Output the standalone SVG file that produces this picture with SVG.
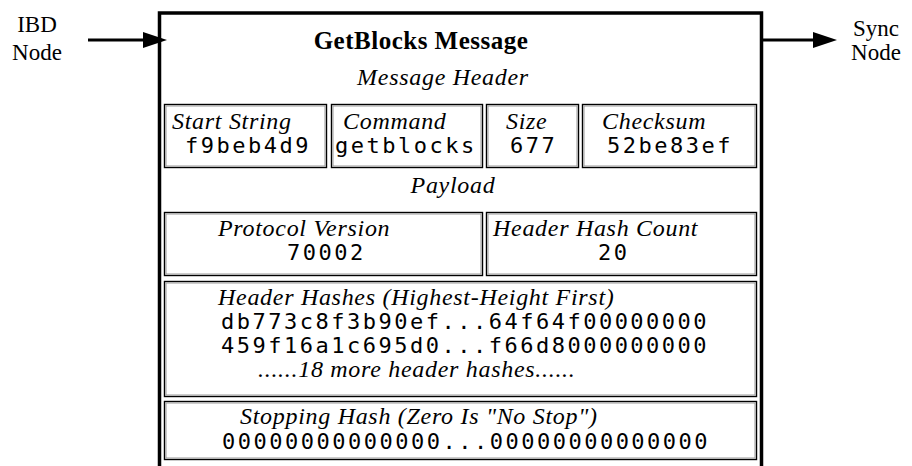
<svg xmlns="http://www.w3.org/2000/svg" width="912" height="466" viewBox="0 0 912 466">
<style>
.lbl{font-family:"Liberation Serif","Times New Roman",serif;font-style:italic;font-size:24px;letter-spacing:0.7px;fill:#000}
.reg{font-family:"Liberation Serif","Times New Roman",serif;font-size:23px;fill:#000}
.ttl{font-family:"Liberation Serif","Times New Roman",serif;font-weight:bold;font-size:25px;letter-spacing:0.5px;fill:#000}
.mono{font-family:"DejaVu Sans Mono","Liberation Mono",monospace;font-size:22px;letter-spacing:2.5px;fill:#000}
.cell{fill:none;stroke:#000;stroke-width:1.4}
.cin{fill:none;stroke:#999;stroke-width:1}
.frame{fill:none;stroke:#000;stroke-width:3.5}
.conn{stroke:#000;stroke-width:3;fill:none}
.head{fill:#000}
</style>
<rect width="912" height="466" fill="#fff"/>
<g id="ibd-node">
<text class="reg" x="37" y="32" text-anchor="middle">IBD</text>
<text class="reg" x="37" y="60" text-anchor="middle">Node</text>
</g>
<g id="sync-node">
<text class="reg" x="876" y="36" text-anchor="middle">Sync</text>
<text class="reg" x="876" y="60" text-anchor="middle">Node</text>
</g>
<g id="getblocks-message">
<path class="frame" d="M159.5,470 V13 H761.5 V470"/>
<text class="ttl" x="421" y="49" text-anchor="middle">GetBlocks Message</text>
<text class="lbl" x="443" y="85" text-anchor="middle">Message Header</text>
<text class="lbl" x="453" y="193" text-anchor="middle">Payload</text>
</g>
<g id="start-string">
<rect class="cell" x="164.5" y="104.5" width="162" height="63"/>
<rect class="cin" x="166" y="106" width="159" height="60"/>
<text class="lbl" x="172" y="129">Start String</text>
<text class="mono" x="185" y="153">f9beb4d9</text>
</g>
<g id="command">
<rect class="cell" x="331.5" y="104.5" width="151" height="63"/>
<rect class="cin" x="333" y="106" width="148" height="60"/>
<text class="lbl" x="343" y="129">Command</text>
<text class="mono" x="335" y="153">getblocks</text>
</g>
<g id="size">
<rect class="cell" x="486.5" y="104.5" width="92" height="63"/>
<rect class="cin" x="488" y="106" width="89" height="60"/>
<text class="lbl" x="506" y="129">Size</text>
<text class="mono" x="510" y="153">677</text>
</g>
<g id="checksum">
<rect class="cell" x="582.5" y="104.5" width="174" height="63"/>
<rect class="cin" x="584" y="106" width="171" height="60"/>
<text class="lbl" x="602" y="129">Checksum</text>
<text class="mono" x="607" y="153">52be83ef</text>
</g>
<g id="protocol-version">
<rect class="cell" x="164.5" y="212.5" width="318" height="63"/>
<rect class="cin" x="166" y="214" width="315" height="60"/>
<text class="lbl" x="218" y="236">Protocol Version</text>
<text class="mono" x="287" y="260">70002</text>
</g>
<g id="header-hash-count">
<rect class="cell" x="486.5" y="212.5" width="270" height="63"/>
<rect class="cin" x="488" y="214" width="267" height="60"/>
<text class="lbl" x="493" y="236">Header Hash Count</text>
<text class="mono" x="598" y="260">20</text>
</g>
<g id="header-hashes">
<rect class="cell" x="164.5" y="281.5" width="592" height="115"/>
<rect class="cin" x="166" y="283" width="589" height="112"/>
<text class="lbl" x="218" y="305">Header Hashes (Highest-Height First)</text>
<text class="mono" x="221" y="329">db773c8f3b90ef...64f64f00000000</text>
<text class="mono" x="221" y="353">459f16a1c695d0...f66d8000000000</text>
<text class="lbl" x="258" y="377">......18 more header hashes......</text>
</g>
<g id="stopping-hash">
<rect class="cell" x="164.5" y="401.5" width="592" height="58"/>
<rect class="cin" x="166" y="403" width="589" height="55"/>
<text class="lbl" x="240" y="424">Stopping Hash (Zero Is "No Stop")</text>
<text class="mono" x="222" y="449">00000000000000...00000000000000</text>
</g>
<g id="connectors">
<line class="conn" x1="88" y1="40" x2="145" y2="40"/>
<polygon class="head" points="143,32 167,40 143,48"/>
<line class="conn" x1="762" y1="40" x2="815" y2="40"/>
<polygon class="head" points="813,32 837,40 813,48"/>
</g>
</svg>
